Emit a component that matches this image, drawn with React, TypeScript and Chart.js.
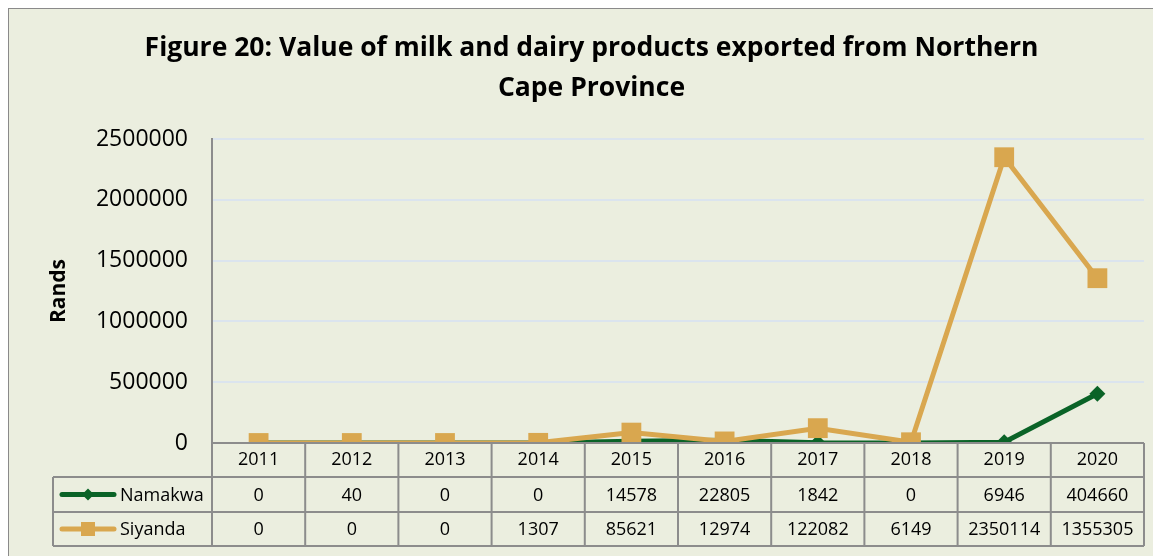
import React, { useEffect, useRef } from "react";
import { Chart, registerables } from "chart.js";

Chart.register(...registerables);

const titleLines = ["Figure 20: Value of milk and dairy products exported from Northern", "Cape Province"];
const years = ["2011", "2012", "2013", "2014", "2015", "2016", "2017", "2018", "2019", "2020"];
const namakwa = [0, 40, 0, 0, 14578, 22805, 1842, 0, 6946, 404660];
const siyanda = [0, 0, 0, 1307, 85621, 12974, 122082, 6149, 2350114, 1355305];
const yTicks = [0, 500000, 1000000, 1500000, 2000000, 2500000];

const GREEN = "#0a6327";
const GOLD = "#d9a74f";
const BG = "#ebeedf";
const TABLE = "#8c8c8c";
const FONT = "'Open Sans', 'Noto Sans', sans-serif";

const tablePlugin = {
  id: "dataTable",
  beforeDraw(chart: any) {
    const { ctx, width, height } = chart;
    ctx.save();
    ctx.fillStyle = BG;
    ctx.fillRect(0, 0, width, height);
    ctx.restore();
  },
  afterDraw(chart: any) {
    const { ctx, chartArea } = chart;
    const x = chart.scales.x;
    const left = chartArea.left;
    const right = chartArea.right;
    const bottom = chartArea.bottom;
    const row0 = bottom + 34;
    const row1 = row0 + 35;
    const row2 = row1 + 34;
    const tableLeft = 44;
    ctx.save();
    ctx.strokeStyle = TABLE;
    ctx.lineWidth = 2;
    ctx.beginPath();
    ctx.moveTo(left, bottom);
    ctx.lineTo(right, bottom);
    [row0, row1, row2].forEach((yy) => {
      ctx.moveTo(tableLeft, yy);
      ctx.lineTo(right, yy);
    });
    const step = (right - left) / years.length;
    for (let i = 0; i <= years.length; i++) {
      const xx = left + i * step;
      ctx.moveTo(xx, bottom);
      ctx.lineTo(xx, row2);
    }
    ctx.moveTo(tableLeft, row0);
    ctx.lineTo(tableLeft, row2);
    ctx.stroke();

    ctx.fillStyle = "#000";
    ctx.font = `18px ${FONT}`;
    ctx.textAlign = "center";
    ctx.textBaseline = "middle";
    const rows = [namakwa, siyanda];
    const rowCenters = [(row0 + row1) / 2, (row1 + row2) / 2];
    rows.forEach((vals, r) => {
      vals.forEach((v, i) => {
        ctx.fillText(String(v), x.getPixelForValue(i), rowCenters[r] + 1);
      });
    });

    const names = ["Namakwa", "Siyanda"];
    const colors = [GREEN, GOLD];
    names.forEach((n, r) => {
      const cy = rowCenters[r];
      ctx.strokeStyle = colors[r];
      ctx.lineWidth = 5;
      ctx.lineCap = "round";
      ctx.beginPath();
      ctx.moveTo(53, cy);
      ctx.lineTo(105, cy);
      ctx.stroke();
      ctx.fillStyle = colors[r];
      if (r === 0) {
        ctx.beginPath();
        ctx.moveTo(79, cy - 6);
        ctx.lineTo(85, cy);
        ctx.lineTo(79, cy + 6);
        ctx.lineTo(73, cy);
        ctx.closePath();
        ctx.fill();
      } else {
        ctx.fillRect(72, cy - 7, 14, 14);
      }
      ctx.fillStyle = "#000";
      ctx.textAlign = "left";
      ctx.fillText(n, 111, cy + 1);
    });
    ctx.restore();
  },
};

export default function App() {
  const ref = useRef<HTMLCanvasElement | null>(null);
  useEffect(() => {
    if (!ref.current) return;
    const chart = new Chart(ref.current, {
      type: "line",
      data: {
        labels: years,
        datasets: [
          {
            label: "Namakwa",
            data: namakwa,
            borderColor: GREEN,
            backgroundColor: GREEN,
            borderWidth: 5,
            pointStyle: "rectRot",
            pointRadius: 8,
            pointBorderWidth: 0,
            order: 1,
          },
          {
            label: "Siyanda",
            data: siyanda,
            borderColor: GOLD,
            backgroundColor: GOLD,
            borderWidth: 5,
            pointStyle: "rect",
            pointRadius: 14,
            pointBorderWidth: 0,
            order: 0,
          },
        ],
      },
      options: {
        animation: false,
        responsive: false,
        maintainAspectRatio: false,
        layout: { padding: { left: 30, right: 17, top: 0, bottom: 78 } },
        plugins: {
          legend: { display: false },
          tooltip: { enabled: false },
          title: {
            display: true,
            text: titleLines,
            color: "#000",
            font: { family: FONT, size: 26.5, weight: "bold", lineHeight: 40 / 26.5 },
            padding: { top: 19, bottom: 31 },
          },
        },
        scales: {
          x: {
            offset: true,
            grid: { display: false, drawTicks: false },
            border: { display: false },
            ticks: { color: "#000", font: { family: FONT, size: 18 }, padding: 6, maxRotation: 0 },
            afterFit: (s: any) => {
              s.height = 35;
            },
          },
          y: {
            min: 0,
            max: 2500000,
            afterBuildTicks: (s: any) => {
              s.ticks = yTicks.map((v) => ({ value: v }));
            },
            grid: { color: "#dbe4ee", lineWidth: 2, drawTicks: false },
            border: { display: true, color: TABLE, width: 2 },
            ticks: {
              color: "#000",
              font: { family: FONT, size: 23 },
              padding: 24,
              callback: (v: any) => String(v),
            },
            title: {
              display: true,
              text: "Rands",
              color: "#000",
              font: { family: FONT, size: 21, weight: "bold", lineHeight: 1.2 },
              padding: { top: 7, bottom: 0 },
            },
            afterFit: (s: any) => {
              s.width = 173;
            },
          },
        },
      },
      plugins: [tablePlugin],
    });
    return () => chart.destroy();
  }, []);
  return (
    <div
      style={{
        width: 1152,
        height: 547,
        borderLeft: "1px solid #8a8a8a",
        borderTop: "1px solid #8a8a8a",
        background: BG,
      }}
    >
      <canvas ref={ref} width={1152} height={547} style={{ display: "block" }} />
    </div>
  );
}
